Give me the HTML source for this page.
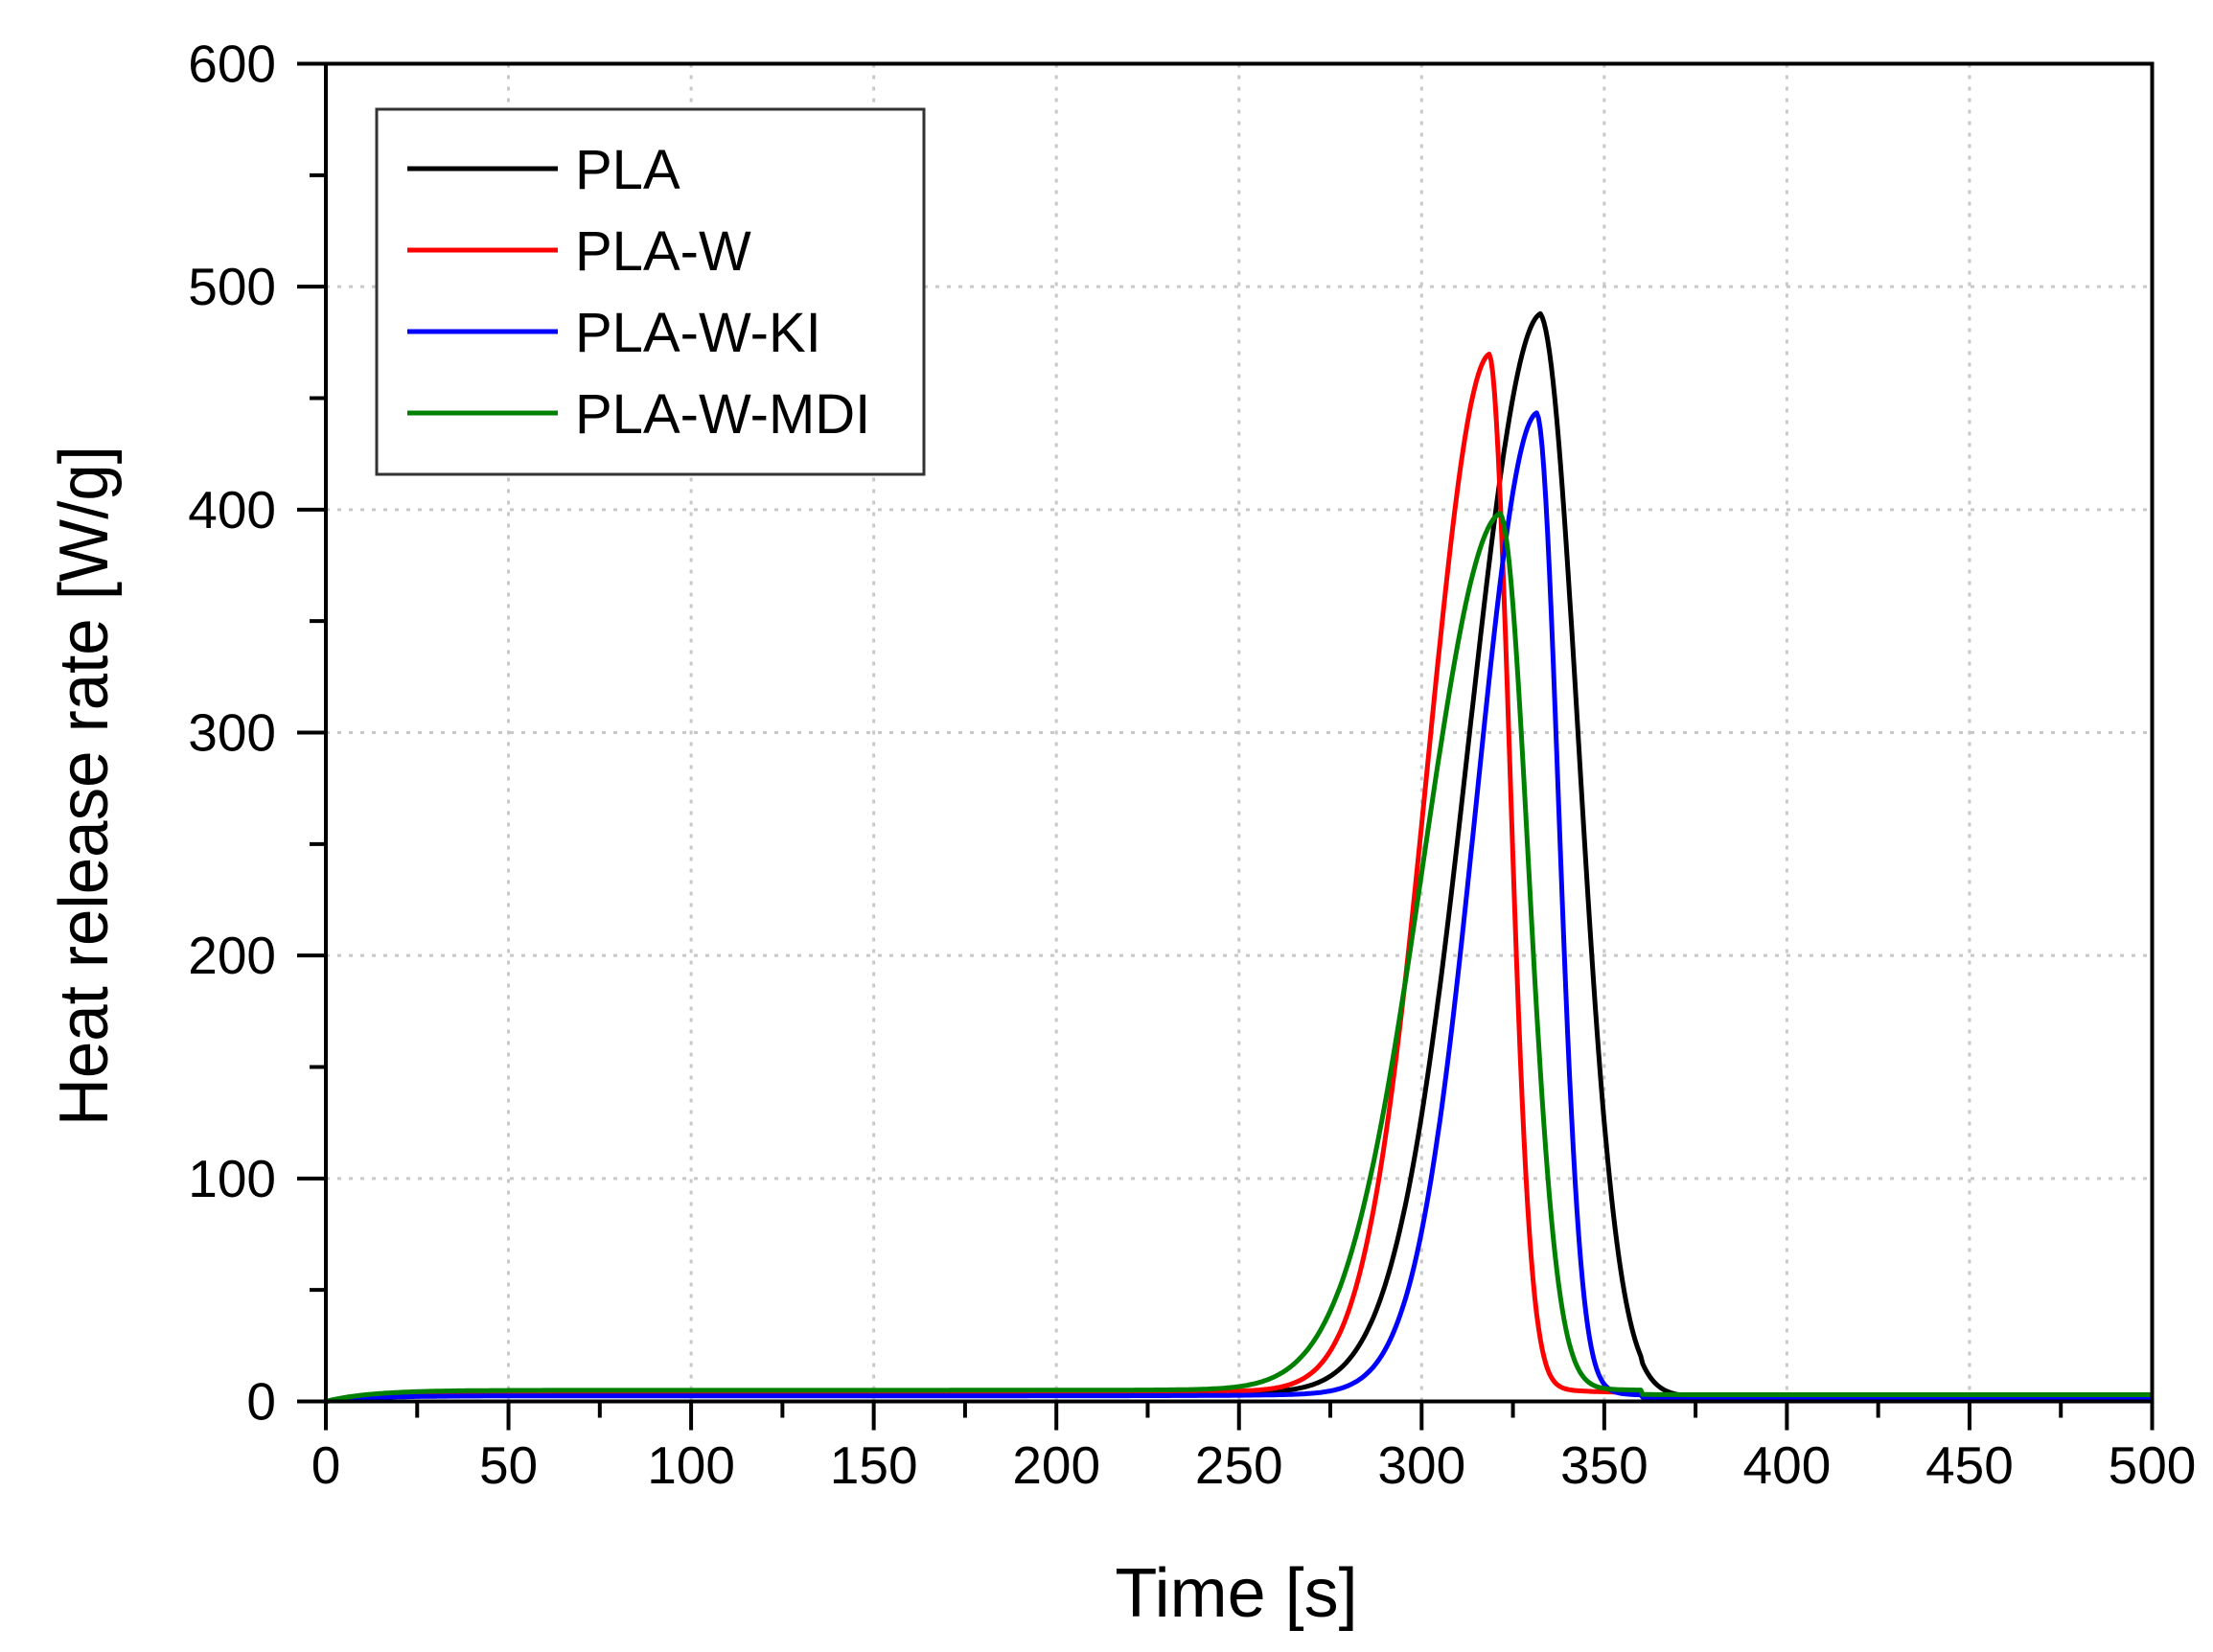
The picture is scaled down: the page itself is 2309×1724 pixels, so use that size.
<!DOCTYPE html>
<html><head><meta charset="utf-8"><style>
html,body{margin:0;padding:0;background:#fff;}
svg{display:block;font-family:"Liberation Sans",Arial,sans-serif;}
</style></head><body>
<svg id="s" width="2309" height="1724" viewBox="0 0 2309 1724" xmlns="http://www.w3.org/2000/svg">
<g id="grid" stroke="#c8c8c8" stroke-width="3" stroke-dasharray="4 8"></g>
<g id="curves" fill="none" stroke-width="5" stroke-linejoin="round"></g>
<rect x="340" y="66.5" width="1905.5" height="1396" fill="none" stroke="#000" stroke-width="4"/>
<g id="ticks" stroke="#000" stroke-width="4"></g>
<g id="labels" font-size="55" fill="#000"></g>
<text x="1290" y="1687" font-size="72" text-anchor="middle">Time [s]</text>
<text transform="translate(112,820) rotate(-90)" font-size="72" text-anchor="middle" textLength="710" lengthAdjust="spacingAndGlyphs">Heat release rate [W/g]</text>
<rect x="393" y="114" width="571" height="381" fill="#fff" stroke="#333" stroke-width="3"/>
<g stroke-width="5">
<line x1="425" y1="176" x2="582" y2="176" stroke="#000"/>
<line x1="425" y1="261" x2="582" y2="261" stroke="#ff0000"/>
<line x1="425" y1="346" x2="582" y2="346" stroke="#0000ff"/>
<line x1="425" y1="431" x2="582" y2="431" stroke="#008000"/>
</g>
<g font-size="58">
<text x="600" y="197">PLA</text>
<text x="600" y="282">PLA-W</text>
<text x="600" y="367">PLA-W-KI</text>
<text x="600" y="452">PLA-W-MDI</text>
</g>
</svg>
<script>
var NS="http://www.w3.org/2000/svg";
function X(t){return 340+t*3.811;}
function Y(v){return 1462.5-v*2.3267;}
function el(p,n,a,txt){var e=document.createElementNS(NS,n);for(var k in a)e.setAttribute(k,a[k]);if(txt!==undefined)e.textContent=txt;document.getElementById(p).appendChild(e);}
for(var t=50;t<500;t+=50)el("grid","line",{x1:X(t),y1:66.5,x2:X(t),y2:1462.5});
for(var v=100;v<600;v+=100)el("grid","line",{x1:340,y1:Y(v),x2:2245.5,y2:Y(v)});
for(var t=0;t<=500;t+=25){var L=(t%50==0)?30:17;el("ticks","line",{x1:X(t),y1:1462.5,x2:X(t),y2:1462.5+L});}
for(var v=0;v<=600;v+=50){var L=(v%100==0)?30:17;el("ticks","line",{x1:340,y1:Y(v),x2:340-L,y2:Y(v)});}
for(var t=0;t<=500;t+=50)el("labels","text",{x:X(t),y:1548,"text-anchor":"middle"},""+t);
for(var v=0;v<=600;v+=100)el("labels","text",{x:288,y:Y(v)+19,"text-anchor":"end"},""+v);
var S=[
 {c:"#000",A:468,t0:332.5,sL:28,sR:15,b:3.5},
 {c:"#ff0000",A:450,t0:318.5,sL:24,sR:8,b:4},
 {c:"#0000ff",A:426,t0:331.5,sL:23.5,sR:8.5,b:2.5},
 {c:"#008000",A:380,t0:321.5,sL:30,sR:11,b:5}
];
S.forEach(function(s){
 var d="";
 for(var t=0;t<=500;t+=0.5){
  var dt=t-s.t0,f;
  if(dt<0){var r=-dt/s.sL;f=s.A*Math.exp(-r*r)+s.A*0.035*Math.exp(dt/20);}
  else{var r=dt/s.sR;f=s.A*Math.exp(-r*r)+s.A*0.035*Math.exp(-dt/8);}
  var base=s.b*(1-Math.exp(-t/12));
  if(t>360)base=s.b*0.6;
  f+=base;
  d+=(t==0?"M":"L")+X(t).toFixed(1)+" "+Y(f).toFixed(1);
 }
 el("curves","path",{d:d,stroke:s.c});
});
</script>
</body></html>
